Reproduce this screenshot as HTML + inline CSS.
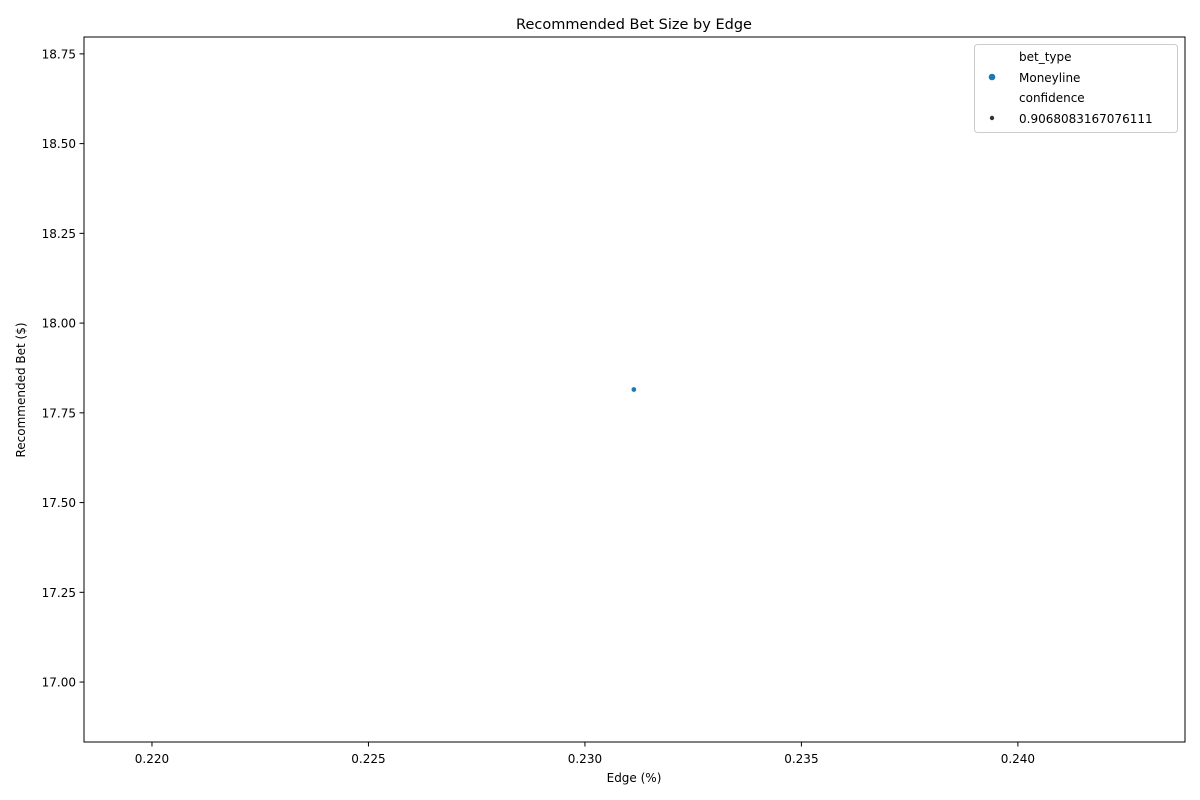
<!DOCTYPE html>
<html><head><meta charset="utf-8"><style>body{margin:0;background:#fff}svg{display:block;font-family:"DejaVu Sans","Liberation Sans",sans-serif}</style></head>
<body>
<svg width="1200" height="800">
<text x="634" y="29" font-size="14.5" text-anchor="middle">Recommended Bet Size by Edge</text>
<g id="xt"></g>
<g id="yt"></g>
<rect x="84" y="37" width="1101" height="705" fill="none" stroke="#000" stroke-width="1"/>
<g id="pts"></g>
<text x="634" y="782" font-size="12" text-anchor="middle">Edge (%)</text>
<text transform="translate(25,390) rotate(-90)" font-size="12" text-anchor="middle">Recommended Bet ($)</text>
<g>
<rect x="974.5" y="44.5" width="203" height="88" rx="3" fill="#fff" stroke="#ccc"/>
<text x="1019" y="61" font-size="12">bet_type</text>
<circle cx="992" cy="77" r="3.3" fill="#1f77b4"/>
<text x="1019" y="82" font-size="12">Moneyline</text>
<text x="1019" y="102" font-size="12">confidence</text>
<circle cx="992" cy="118" r="2.2" fill="#333"/>
<text x="1019" y="123" font-size="12">0.9068083167076111</text>
</g>
</svg>
<script>
const edges=[0.23113];
const bets=[17.815];
const xTicks=[0.220,0.225,0.230,0.235,0.240];
const yTicks=[17.00,17.25,17.50,17.75,18.00,18.25,18.50,18.75];
const X0=84,X1=1185,Y0=742,Y1=37,xmin=0.21843,xmax=0.24386,ymin=16.833,ymax=18.797;
const sx=v=>X0+(v-xmin)/(xmax-xmin)*(X1-X0);
const sy=v=>Y0-(v-ymin)/(ymax-ymin)*(Y0-Y1);
const NS="http://www.w3.org/2000/svg";
function mk(t,a){const e=document.createElementNS(NS,t);for(const k in a)e.setAttribute(k,a[k]);return e;}
const xt=document.getElementById('xt'),yt=document.getElementById('yt'),pts=document.getElementById('pts');
xTicks.forEach(v=>{const x=sx(v);
const l=mk('line',{x1:x,x2:x,y1:742,y2:746.5,stroke:'#000'});

xt.appendChild(l);
const t=mk('text',{x:x,y:763,'font-size':12,'text-anchor':'middle'});t.textContent=v.toFixed(3);

xt.appendChild(t);});
yTicks.forEach(v=>{const y=sy(v);
const l=mk('line',{x1:79.5,x2:84,y1:y,y2:y,stroke:'#000'});

yt.appendChild(l);
const t=mk('text',{x:76,y:y+4.5,'font-size':12,'text-anchor':'end'});t.textContent=v.toFixed(2);

yt.appendChild(t);});
edges.forEach((e,i)=>{const c=mk('circle',{cx:sx(e),cy:sy(bets[i]),r:2.6,fill:'#1f77b4',stroke:'#fff','stroke-width':0.5});

pts.appendChild(c);});
</script>
</body></html>
